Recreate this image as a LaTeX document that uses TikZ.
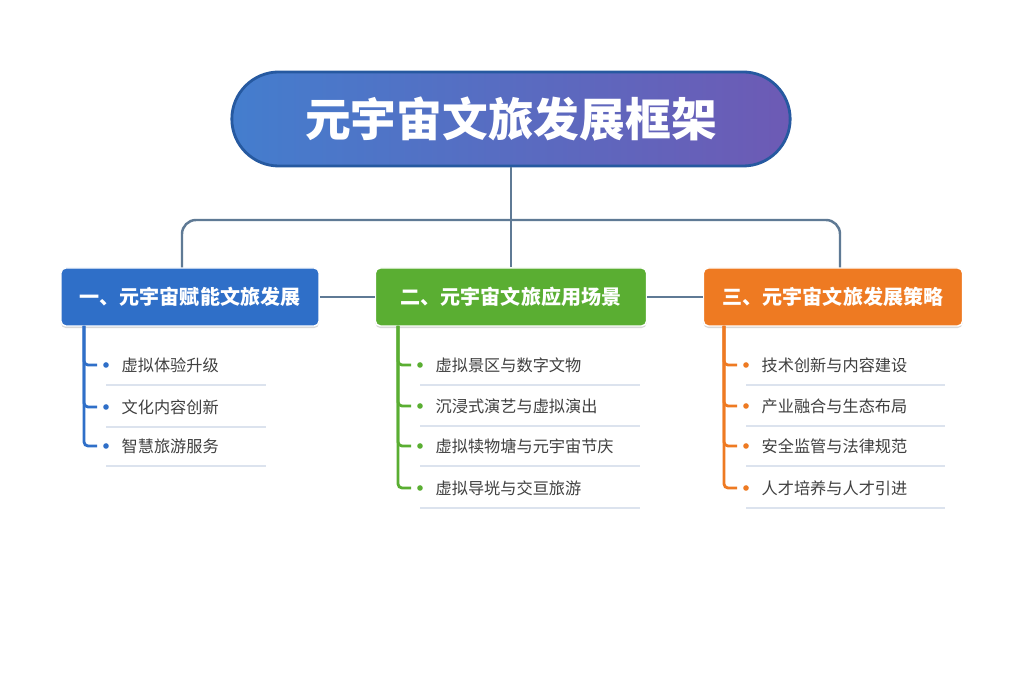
\documentclass[tikz,border=0pt]{standalone}
\usepackage{fontspec}
\setmainfont{Noto Sans CJK SC}
\usetikzlibrary{positioning,shadows}
\definecolor{myblue}{HTML}{2F6FC8}
\definecolor{mygreen}{HTML}{5AAE32}
\definecolor{myorange}{HTML}{EE7A22}
\definecolor{mygray}{HTML}{5F7A95}
\definecolor{myline}{HTML}{DCE3EE}
\tikzset{
    head/.style={draw=white,line width=0.4pt,rounded corners=0.05cm,
        minimum width=2.58cm,minimum height=0.58cm,text=white,
        font=\fontsize{5.7}{6.5}\selectfont\bfseries,
        drop shadow={opacity=0.3,shadow xshift=0pt,shadow yshift=-0.6pt}},
    item/.style={anchor=west,font=\fontsize{4.6}{5.5}\selectfont,text=black!75,inner sep=0pt},
    link/.style={mygray,line width=0.7pt}
}
\begin{document}
\begin{tikzpicture}[x=0.01cm,y=-0.01cm]
    \useasboundingbox[fill=white] (0,0) rectangle (1024,683);
    % title
    \node [draw=myblue!80!black,line width=0.8pt,rounded corners=0.47cm,
        minimum width=5.58cm,minimum height=0.94cm,
        left color=myblue!90,right color=violet!45!myblue!85,
        text=white,font=\fontsize{13}{15}\selectfont\bfseries
    ] (Title) at (511,119) {元宇宙文旅发展框架};
    % branches
    \node [head,fill=myblue] (Part1) at (190,297) {一、元宇宙赋能文旅发展};
    \node [head,fill=mygreen,minimum width=2.71cm] (Part2) at (511,297) {二、元宇宙文旅应用场景};
    \node [head,fill=myorange,minimum width=2.59cm] (Part3) at (833,297) {三、元宇宙文旅发展策略};
    \draw[link] (Title.south) -- (Part2.north);
    \draw[link,rounded corners=0.14cm] (Part1.north -| 182,0) -- (182,220) -- (840,220) -- (Part3.north -| 840,0);
    \draw[link] (Part1.east) -- (Part2.west);
    \draw[link] (Part2.east) -- (Part3.west);
    % items
    \foreach \col/\x/\w/\list in {
        myblue/84/266/{365/Item11/虚拟体验升级,407/Item12/文化内容创新,446/Item13/智慧旅游服务},
        mygreen/398/640/{365/Item21/虚拟景区与数字文物,406/Item22/沉浸式演艺与虚拟演出,446/Item23/虚拟犊物塘与元宇宙节庆,488/Item24/虚拟导垙与交亘旅游},
        myorange/724/945/{365/Item31/技术创新与内容建设,406/Item32/产业融合与生态布局,446/Item33/安全监管与法律规范,488/Item34/人才培养与人才引进}} {
        \foreach \y/\name/\txt in \list {
            \node [item] (\name) at (\x+37,\y) {\txt};
            \fill[\col] (\x+22,\y) circle (0.028cm);
            \draw[myline,line width=0.6pt] (\x+22,\y+20) -- (\w,\y+20);
            \draw[\col,line width=0.8pt,rounded corners=0.04cm] (\x,326) -- (\x,\y) -- (\x+13,\y);
        }
    }
\end{tikzpicture}
\end{document}
